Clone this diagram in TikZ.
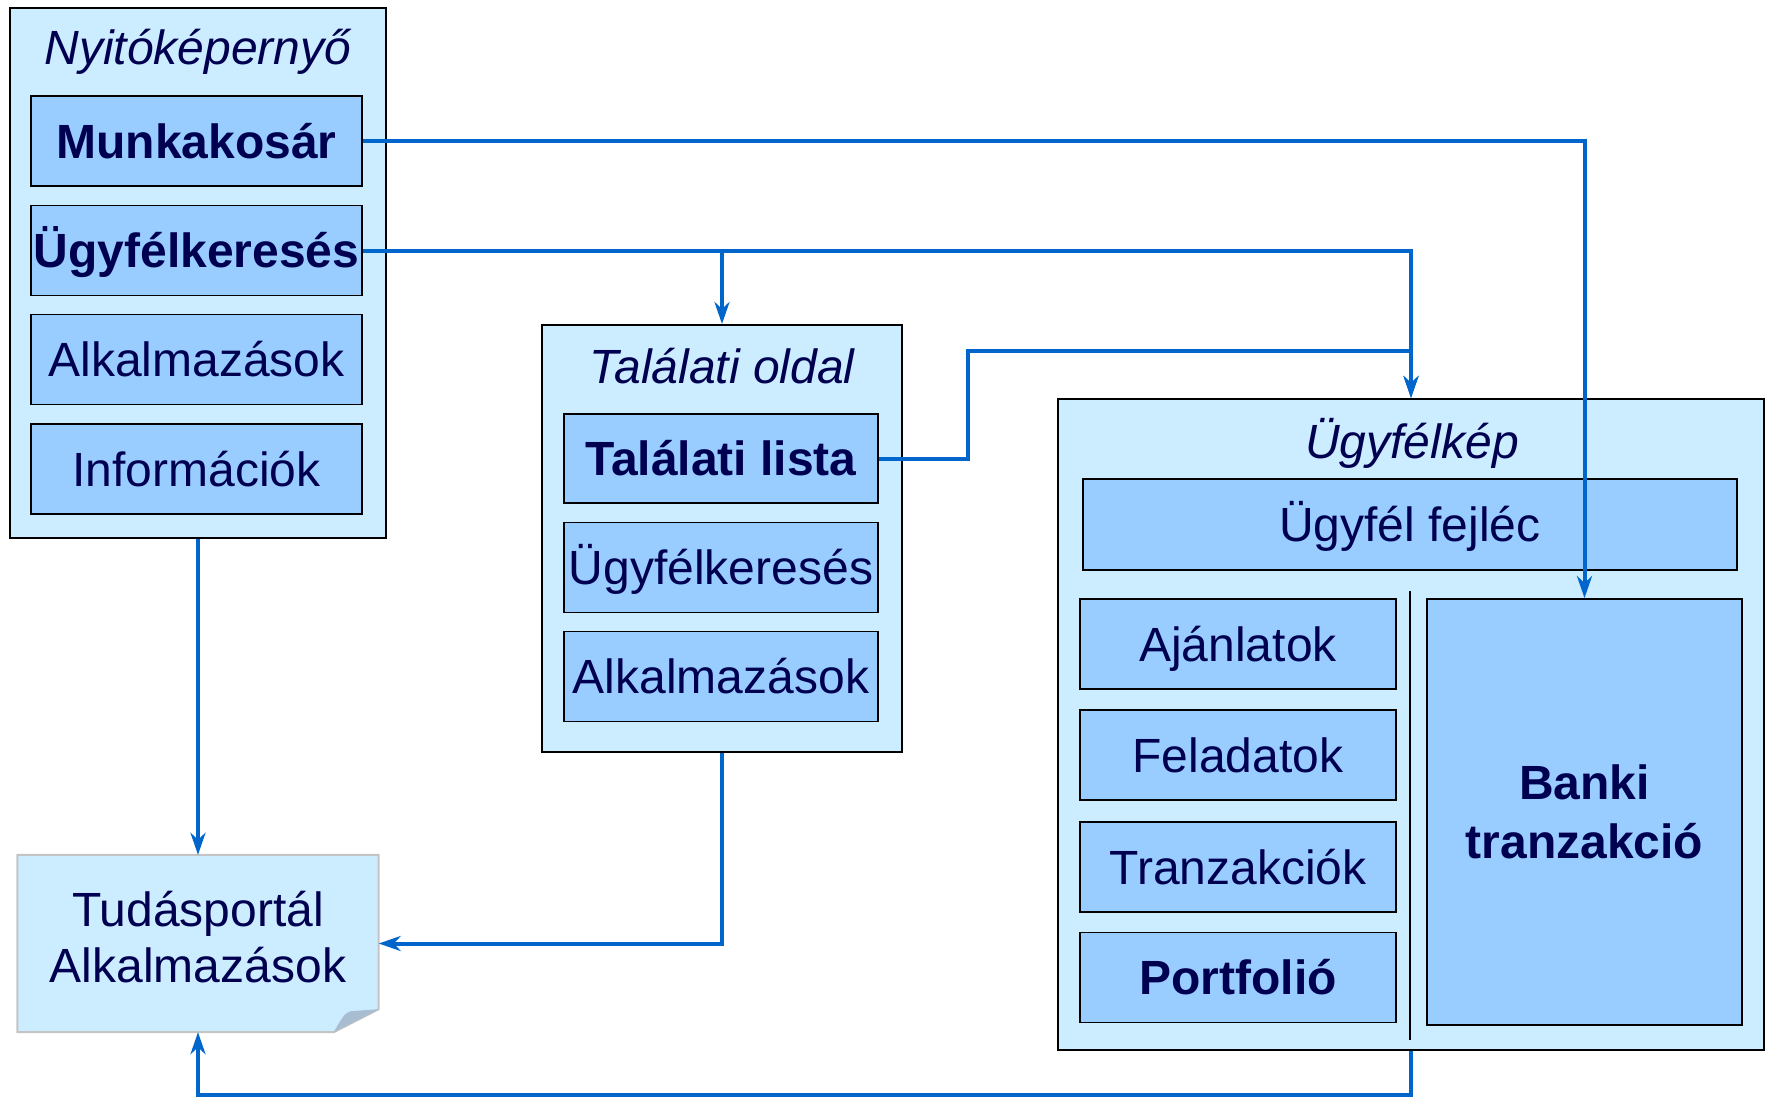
\documentclass[tikz,border=0pt]{standalone}
\usepackage{fontspec}
\setmainfont{Liberation Sans}
\usetikzlibrary{arrows.meta,backgrounds}
\definecolor{outerfill}{RGB}{204,236,255}
\definecolor{innerfill}{RGB}{153,204,255}
\definecolor{txt}{RGB}{0,0,80}
\definecolor{arr}{RGB}{0,102,204}
\definecolor{notegray}{RGB}{196,196,196}
\definecolor{foldc}{RGB}{168,190,208}
\tikzset{
  outerbox/.style={draw=black, line width=2pt, fill=outerfill, inner sep=0pt},
  innerbox/.style={draw=black, line width=1.8pt, fill=innerfill, inner sep=0pt, text=txt,
    font=\fontsize{48}{57}\selectfont, text height=40pt, text depth=6pt},
  boldbox/.style={innerbox, font=\fontsize{48}{57}\selectfont\bfseries},
  titletext/.style={inner sep=0pt, text=txt, font=\fontsize{48}{57}\selectfont\itshape},
  notetext/.style={inner sep=0pt, text=txt, align=center, font=\fontsize{48}{56}\selectfont},
  conn/.style={draw=arr, line width=4pt, -{Stealth[length=22pt,width=15pt,inset=7pt]}},
}
\begin{document}
\begin{tikzpicture}[x=1pt,y=-1pt]
\useasboundingbox (0,0) rectangle (1772,1097);

% Nyitóképernyő
\node[outerbox, minimum width=376pt, minimum height=530pt] (nyito) at (198,273) {};
\node[titletext] (nyitot) at (198,52) {Nyitóképernyő};
\node[boldbox, minimum width=331pt, minimum height=90pt] (munka) at (196.5,141) {Munkakosár};
\node[boldbox, minimum width=331pt, minimum height=90pt] (ugyker1) at (196.5,250.5) {Ügyfélkeresés};
\node[innerbox, minimum width=331pt, minimum height=90pt] (alk1) at (196.5,359.5) {Alkalmazások};
\node[innerbox, minimum width=331pt, minimum height=90pt] (info) at (196.5,469) {Információk};

% Találati oldal
\node[outerbox, minimum width=360pt, minimum height=427pt] (talalati) at (722,538.5) {};
\node[titletext] (talalatit) at (722,366) {Találati oldal};
\node[boldbox, minimum width=314pt, minimum height=89pt] (tlista) at (721,458.5) {Találati lista};
\node[innerbox, minimum width=314pt, minimum height=90pt] (ugyker2) at (721,567.5) {Ügyfélkeresés};
\node[innerbox, minimum width=314pt, minimum height=90pt] (alk2) at (721,676.5) {Alkalmazások};

% Ügyfélkép
\node[outerbox, minimum width=706pt, minimum height=651pt] (ugykep) at (1411,724.5) {};
\node[titletext] (ugykept) at (1412,443) {Ügyfélkép};
\node[innerbox, minimum width=654pt, minimum height=91pt] (fejlec) at (1410,524.5) {Ügyfél fejléc};
\node[innerbox, minimum width=316pt, minimum height=90pt] (ajan) at (1238,644) {Ajánlatok};
\node[innerbox, minimum width=316pt, minimum height=90pt] (fel) at (1238,755) {Feladatok};
\node[innerbox, minimum width=316pt, minimum height=90pt] (tranz) at (1238,867) {Tranzakciók};
\node[boldbox, minimum width=316pt, minimum height=90pt] (portf) at (1238,977.5) {Portfolió};
\node[boldbox, minimum width=315pt, minimum height=426pt, text height=, text depth=, align=center,
  font=\fontsize{48}{59}\selectfont\bfseries] (banki) at (1584.5,812) {Banki\\tranzakció};
\coordinate (divtop) at (1410,591);
\coordinate (divbot) at (1410,1040);
\draw[line width=2pt] (divtop) -- (divbot);

% Tudásportál note
\node[inner sep=0pt, minimum width=361pt, minimum height=177pt] (note) at (198,943.5) {};
\node[notetext] (notet) at ([yshift=6pt]note.center) {Tudásportál\\Alkalmazások};
\begin{scope}[on background layer]
\draw[draw=notegray, line width=2pt, fill=outerfill]
  (note.north west) -- (note.north east) -- ([yshift=23pt]note.south east)
  -- ([xshift=-45pt]note.south east) -- (note.south west) -- cycle;
\fill[foldc] ([xshift=-45pt]note.south east) .. controls ([xshift=-38pt,yshift=12pt]note.south east) and ([xshift=-34pt,yshift=20pt]note.south east) .. ([xshift=-28pt,yshift=21pt]note.south east)
  -- ([yshift=23pt]note.south east) -- cycle;
\end{scope}

% connectors
\draw[conn] (munka.east) -| (banki.north);
\draw[conn] (ugyker1.east) -| (ugykep.north);
\draw[conn] (ugyker1.east -| talalati.north) -- (talalati.north);
\coordinate (tl1) at (968,458.5);
\coordinate (tl2) at (968,351);
\draw[conn] (tlista.east) -- (tl1) -- (tl2) -| (ugykep.north);
\draw[conn] (nyito.south) -- (note.north);
\coordinate (ta1) at (722,943.5);
\draw[conn] (talalati.south) -- (ta1) -- (note.east);
\coordinate (uk1) at (1411,1095);
\coordinate (uk2) at (198,1095);
\draw[conn] (ugykep.south) -- (uk1) -- (uk2) -- (note.south);
\end{tikzpicture}
\end{document}
